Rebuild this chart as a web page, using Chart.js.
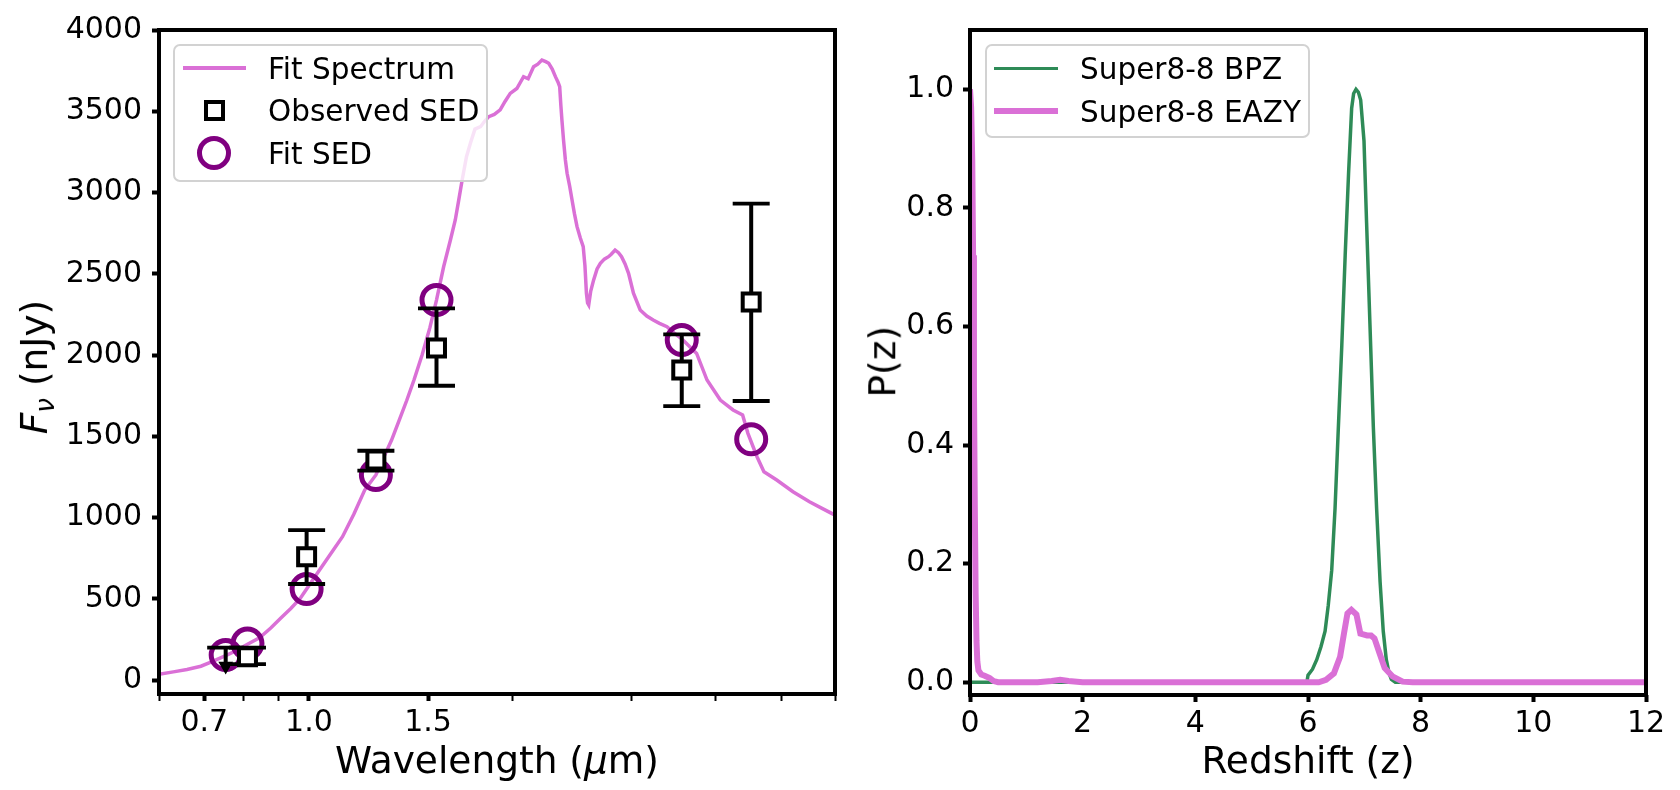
<!DOCTYPE html>
<html lang="en">
<head>
    <meta charset="UTF-8">
    <title>SED Fit and Photometric Redshift</title>
    <script src="https://cdn.jsdelivr.net/npm/chart.js"></script>
    <style>
        body { margin: 0; background: #fff; font-family: "DejaVu Sans", sans-serif; color: #000; }
        #figure { position: relative; width: 1680px; height: 790px; overflow: hidden; }
        canvas { position: absolute; top: 0; }
        .legend-box { position: absolute; box-sizing: border-box; border: 2px solid #d2d2d2; border-radius: 7px; background: rgba(255, 255, 255, 0.8); }
        .legend-label { position: absolute; font-size: 29.5px; line-height: 30px; white-space: nowrap; }
        .handle { position: absolute; box-sizing: border-box; }
        .axis-title { position: absolute; font-size: 37.5px; line-height: 37.5px; white-space: nowrap; text-align: center; }
    </style>
</head>
<body>
<div id="figure">
    <canvas id="sedChart" width="860" height="790" style="left:0"></canvas>
    <canvas id="pzChart" width="820" height="790" style="left:860px"></canvas>

    <!-- left legend -->
    <div class="legend-box" style="left:173px; top:44px; width:315px; height:138px"></div>
    <div class="handle" style="left:183px; top:66.3px; width:63px; height:3.5px; background:#DA70D6"></div>
    <div class="handle" style="left:203.5px; top:99.5px; width:21px; height:21px; border:4px solid #000; background:#fff"></div>
    <div class="handle" style="left:197px; top:136px; width:34px; height:34px; border:5px solid #800080; border-radius:50%"></div>
    <div class="legend-label" style="left:268px; top:54px">Fit Spectrum</div>
    <div class="legend-label" style="left:268px; top:96px">Observed SED</div>
    <div class="legend-label" style="left:268px; top:139px">Fit SED</div>

    <!-- right legend -->
    <div class="legend-box" style="left:985px; top:44px; width:325px; height:94px"></div>
    <div class="handle" style="left:994px; top:66.5px; width:64px; height:3.5px; background:#2E8B57"></div>
    <div class="handle" style="left:994px; top:108px; width:64px; height:6px; background:#DA70D6"></div>
    <div class="legend-label" style="left:1080px; top:54px">Super8-8 BPZ</div>
    <div class="legend-label" style="left:1080px; top:97px">Super8-8 EAZY</div>

    <!-- axis titles -->
    <div class="axis-title" style="left:159px; width:676px; top:742px">Wavelength (<i>μ</i>m)</div>
    <div class="axis-title" style="left:970px; width:676px; top:742px">Redshift (z)</div>
    <div class="axis-title" style="left:-110px; width:300px; top:343px; transform:rotate(-90deg)"><i>F</i><sub style="font-size:0.7em; vertical-align:-0.25em"><i>ν</i></sub> (nJy)</div>
    <div class="axis-title" style="left:733px; width:300px; top:343px; transform:rotate(-90deg)">P(z)</div>
</div>

<script>
// ---- left panel: SED ----
const specWave = [0.600, 0.630, 0.660, 0.692, 0.716, 0.753, 0.780, 0.811, 0.845, 0.878, 0.908, 0.940, 0.970, 0.992,
    1.030, 1.070, 1.121, 1.165, 1.209, 1.256, 1.290, 1.325, 1.360, 1.395, 1.430, 1.470, 1.510, 1.544, 1.582, 1.619,
    1.646, 1.665, 1.685, 1.710, 1.733, 1.760, 1.794, 1.820, 1.845, 1.880, 1.918, 1.950, 1.985, 2.030, 2.077, 2.110,
    2.149, 2.180, 2.211, 2.240, 2.263, 2.290, 2.315, 2.335, 2.349, 2.358, 2.367, 2.380, 2.395, 2.409, 2.430, 2.450,
    2.470, 2.492, 2.520, 2.545, 2.560, 2.573, 2.583, 2.593, 2.610, 2.637, 2.668, 2.698, 2.735, 2.774, 2.800, 2.837,
    2.870, 2.900, 2.935, 2.970, 3.020, 3.090, 3.160, 3.230, 3.300, 3.385, 3.470, 3.560, 3.640, 3.745, 3.880, 4.060,
    4.240, 4.380, 4.460, 4.600, 4.710, 4.920, 5.200, 5.500, 5.750, 6.000];
const specFlux = [35, 50, 65, 85, 110, 150, 180, 220, 260, 320, 380, 440, 500, 560,
    660, 760, 882, 1020, 1169, 1262, 1370, 1477, 1600, 1720, 1846, 2000, 2170, 2338, 2543, 2708,
    2831, 2950, 3077, 3220, 3303, 3390, 3405, 3440, 3467, 3480, 3508, 3560, 3610, 3640, 3713, 3700,
    3774, 3790, 3815, 3805, 3795, 3760, 3713, 3680, 3651, 3540, 3446, 3323, 3200, 3118, 3040, 2954,
    2870, 2790, 2720, 2667, 2550, 2380, 2320, 2308, 2390, 2462, 2530, 2564, 2590, 2605, 2620, 2646,
    2630, 2605, 2560, 2503, 2380, 2277, 2240, 2215, 2195, 2174, 2135, 2100, 2060, 2010, 1846, 1723,
    1662, 1631, 1518, 1374, 1282, 1231, 1159, 1097, 1055, 1015];

const obsWave = [0.811, 0.992, 1.256, 1.544, 3.56, 4.51];
const obsFlux = [143, 759, 1354, 2043, 1908, 2326];
const obsLow  = [98, 591, 1288, 1811, 1686, 1717];
const obsHigh = [199, 923, 1411, 2287, 2127, 2932];

// upper limit band
const limWave = [0.753];
const limTop  = [199];
const limTip  = [86];

const fitWave = [0.753, 0.811, 0.992, 1.256, 1.544, 3.56, 4.51];
const fitFlux = [154, 224, 560, 1262, 2338, 2092, 1481];

const sedXTicks  = [0.6, 0.7, 0.8, 0.9, 1.0, 1.5, 2, 3, 4, 5, 6];
const sedXLabels = ['', '0.7', '', '', '1.0', '1.5', '', '', '', '', ''];
const sedYTicks  = [0, 500, 1000, 1500, 2000, 2500, 3000, 3500, 4000];

// ---- right panel: P(z) ----
const bpzZ = [0, 5.98, 6.0, 6.08, 6.155, 6.23, 6.303, 6.36, 6.421, 6.48, 6.539, 6.6, 6.66, 6.72, 6.775, 6.81,
    6.852, 6.895, 6.935, 6.994, 7.04, 7.1, 7.16, 7.218, 7.28, 7.336, 7.39, 7.44, 7.48, 7.55, 12];
const bpzP = [0, 0, 0.012, 0.022, 0.038, 0.06, 0.086, 0.13, 0.189, 0.293, 0.43, 0.568, 0.72, 0.858, 0.968, 0.993,
    1.0, 0.995, 0.982, 0.913, 0.775, 0.603, 0.43, 0.293, 0.169, 0.086, 0.038, 0.015, 0.005, 0, 0];

const eazyZ = [0, 0.02, 0.04, 0.055, 0.07, 0.085, 0.1, 0.115, 0.13, 0.15, 0.2, 0.26, 0.35, 0.42, 0.5, 1.2, 1.45,
    1.6, 1.75, 2.0, 6.19, 6.32, 6.46, 6.57, 6.64, 6.7, 6.77, 6.86, 6.93, 7.05, 7.12, 7.18, 7.27, 7.36, 7.5, 7.68, 7.86, 12];
const eazyP = [1.0, 0.97, 0.88, 0.72, 0.5, 0.3, 0.15, 0.07, 0.035, 0.02, 0.013, 0.011, 0.007, 0.002, 0, 0, 0.002,
    0.004, 0.002, 0, 0, 0.004, 0.015, 0.043, 0.083, 0.116, 0.122, 0.114, 0.082, 0.079, 0.079, 0.074, 0.049, 0.024, 0.01, 0.001, 0, 0];

const pzXTicks  = [0, 2, 4, 6, 8, 10, 12];
const pzYTicks  = [0, 0.2, 0.4, 0.6, 0.8, 1.0];
const pzYLabels = ['0.0', '0.2', '0.4', '0.6', '0.8', '1.0'];

Chart.defaults.font.family = 'DejaVu Sans';
Chart.defaults.color = '#000';

const tickFont = { family: 'DejaVu Sans', size: 30 };
const pts = (xs, ys) => xs.map((x, i) => ({ x: x, y: ys[i] }));

// black box around the plotting area, like matplotlib spines
const frame = {
    id: 'frame',
    afterDatasetsDraw(chart) {
        const { ctx, chartArea: a } = chart;
        ctx.save();
        ctx.strokeStyle = '#000';
        ctx.lineWidth = 4;
        ctx.strokeRect(a.left, a.top, a.right - a.left, a.bottom - a.top);
        ctx.restore();
    }
};

const errorBars = obsWave.map((w, i) => ({
    data: [{ x: w, y: obsLow[i] }, { x: w, y: obsHigh[i] }],
    showLine: true,
    borderColor: '#000',
    borderWidth: 4,
    pointStyle: 'line',
    pointRadius: 18.5,
    pointBorderWidth: 3.8,
    pointBorderColor: '#000',
    order: 1
}));

const upperLimit = {
    data: [{ x: limWave[0], y: limTop[0] }, { x: limWave[0], y: limTip[0] }],
    showLine: true,
    borderColor: '#000',
    borderWidth: 4,
    pointStyle: ['line', 'triangle'],
    rotation: [0, 180],
    pointRadius: [18.5, 6.5],
    pointBorderWidth: [3.8, 2],
    pointBorderColor: '#000',
    pointBackgroundColor: '#000',
    order: 1
};

new Chart(document.getElementById('sedChart'), {
    type: 'scatter',
    data: {
        datasets: [
            {
                label: 'Observed SED',
                data: pts(obsWave, obsFlux),
                pointStyle: 'rect',
                pointRadius: 12,
                pointBorderWidth: 4,
                pointBorderColor: '#000',
                pointBackgroundColor: '#fff',
                order: 0
            },
            ...errorBars,
            upperLimit,
            {
                label: 'Fit SED',
                data: pts(fitWave, fitFlux),
                pointStyle: 'circle',
                pointRadius: 14.5,
                pointBorderWidth: 5,
                pointBorderColor: '#800080',
                pointBackgroundColor: 'rgba(0,0,0,0)',
                order: 2
            },
            {
                label: 'Fit Spectrum',
                data: pts(specWave, specFlux),
                showLine: true,
                borderColor: '#DA70D6',
                borderWidth: 3.5,
                pointRadius: 0,
                tension: 0,
                order: 3
            }
        ]
    },
    options: {
        responsive: false,
        animation: false,
        events: [],
        layout: { padding: { top: 30, right: 25, bottom: 0, left: 0 }, autoPadding: false },
        plugins: { legend: { display: false }, tooltip: { enabled: false } },
        scales: {
            x: {
                type: 'logarithmic',
                min: 0.6,
                max: 6,
                bounds: 'data',
                afterBuildTicks: axis => { axis.ticks = sedXTicks.map(v => ({ value: v })); },
                afterFit: axis => { axis.height = 96; },
                ticks: {
                    callback: (v, i) => sedXLabels[i],
                    autoSkip: false,
                    maxRotation: 0,
                    padding: 4,
                    color: '#000',
                    font: tickFont
                },
                grid: {
                    drawOnChartArea: false,
                    drawTicks: true,
                    tickLength: 7,
                    tickWidth: ctx => (sedXLabels[ctx.index] ? 4 : 2),
                    tickColor: '#000'
                },
                border: { display: false }
            },
            y: {
                min: -86,
                max: 4000,
                afterBuildTicks: axis => { axis.ticks = sedYTicks.map(v => ({ value: v })); },
                afterFit: axis => { axis.width = 159; },
                ticks: { callback: v => String(v), padding: 10, color: '#000', font: tickFont },
                grid: { drawOnChartArea: false, drawTicks: true, tickLength: 7, tickWidth: 4, tickColor: '#000' },
                border: { display: false }
            }
        }
    },
    plugins: [frame]
});

new Chart(document.getElementById('pzChart'), {
    type: 'scatter',
    data: {
        datasets: [
            {
                label: 'Super8-8 EAZY',
                data: pts(eazyZ, eazyP),
                showLine: true,
                borderColor: '#DA70D6',
                borderWidth: 6,
                pointRadius: 0,
                tension: 0,
                order: 0
            },
            {
                label: 'Super8-8 BPZ',
                data: pts(bpzZ, bpzP),
                showLine: true,
                borderColor: '#2E8B57',
                borderWidth: 3.5,
                pointRadius: 0,
                tension: 0,
                order: 1
            }
        ]
    },
    options: {
        responsive: false,
        animation: false,
        events: [],
        layout: { padding: { top: 30, right: 34, bottom: 0, left: 0 }, autoPadding: false },
        plugins: { legend: { display: false }, tooltip: { enabled: false } },
        scales: {
            x: {
                type: 'linear',
                min: 0,
                max: 12,
                afterBuildTicks: axis => { axis.ticks = pzXTicks.map(v => ({ value: v })); },
                afterFit: axis => { axis.height = 95; },
                ticks: { callback: v => String(v), autoSkip: false, maxRotation: 0, padding: 4, color: '#000', font: tickFont },
                grid: { drawOnChartArea: false, drawTicks: true, tickLength: 7, tickWidth: 4, tickColor: '#000' },
                border: { display: false }
            },
            y: {
                min: -0.0215,
                max: 1.1,
                afterBuildTicks: axis => { axis.ticks = pzYTicks.map(v => ({ value: v })); },
                afterFit: axis => { axis.width = 110; },
                ticks: { callback: (v, i) => pzYLabels[i], padding: 9, color: '#000', font: tickFont },
                grid: { drawOnChartArea: false, drawTicks: true, tickLength: 7, tickWidth: 4, tickColor: '#000' },
                border: { display: false }
            }
        }
    },
    plugins: [frame]
});
</script>
</body>
</html>
